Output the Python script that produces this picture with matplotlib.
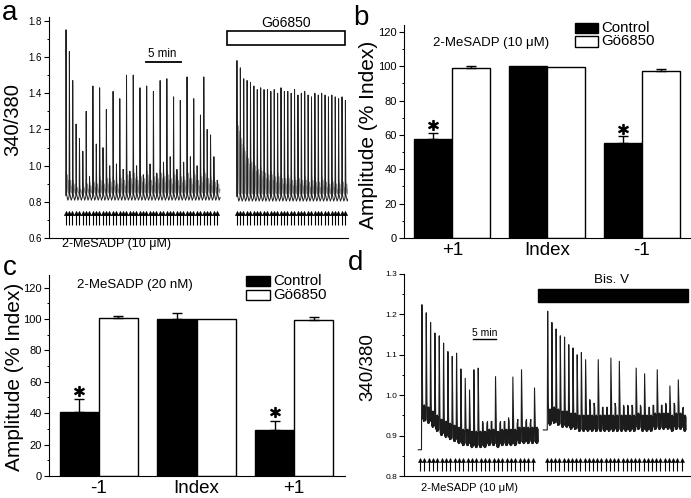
import matplotlib
matplotlib.use('Agg')
import matplotlib.pyplot as plt
from matplotlib.patches import Rectangle
from matplotlib.ticker import MultipleLocator

plt.rcParams['font.family'] = ['Liberation Sans', 'DejaVu Sans']

# ---- panel a : 340/380 trace, 2-MeSADP 10 uM, then Go6850 ----
a_stim_start = [2.39, 26.8]      # min
a_stim_step = [0.480, 0.484]     # min
a_base = [0.815, 0.81]
a_peaks_1 = [1.75, 1.63, 1.47, 1.23, 1.15, 1.08, 1.30, 0.94, 1.44, 1.12,
             1.43, 1.10, 1.31, 1.00, 1.41, 1.01, 1.37, 0.98, 1.50, 0.97,
             1.50, 1.00, 1.43, 0.95, 1.44, 1.01, 1.41, 0.96, 1.47, 1.02,
             1.48, 1.05, 1.38, 0.98, 1.36, 1.02, 1.49, 1.05, 1.37, 1.00,
             1.28, 1.49, 1.20, 1.17, 1.05, 0.92]
a_gray_1 = [0.95, 0.92, 0.90, 0.88, 0.87, 0.88, 0.90, 0.89, 0.91, 0.90,
            0.92, 0.90, 0.93, 0.91, 0.92, 0.90, 0.93, 0.92, 0.95, 0.93,
            0.96, 0.92, 0.94, 0.93, 0.95, 0.92, 0.94, 0.93, 0.96, 0.94,
            0.95, 0.93, 0.95, 0.92, 0.94, 0.92, 0.96, 0.93, 0.95, 0.92,
            0.94, 0.96, 0.93, 0.92, 0.91, 0.90]
a_peaks_2 = [1.58, 1.54, 1.48, 1.47, 1.46, 1.44, 1.42, 1.43, 1.42, 1.42,
             1.41, 1.42, 1.40, 1.43, 1.41, 1.41, 1.40, 1.42, 1.39, 1.40,
             1.41, 1.39, 1.38, 1.40, 1.39, 1.40, 1.39, 1.38, 1.39, 1.38,
             1.37, 1.38, 1.36]
a_gray_2 = [1.22, 1.15, 1.08, 1.04, 1.02, 1.00, 0.98, 0.97, 0.96, 0.95,
            0.95, 0.94, 0.94, 0.93, 0.93, 0.93, 0.92, 0.92, 0.93, 0.92,
            0.92, 0.91, 0.92, 0.91, 0.91, 0.92, 0.91, 0.90, 0.91, 0.90,
            0.90, 0.91, 0.90]

# ---- panel b : 2-MeSADP 10 uM ----
b_cats = ['+1', 'Index', '-1']
b_control = [57.5, 100.0, 55.2]
b_control_err = [3.9, 0.0, 4.2]
b_go = [98.8, 99.7, 97.2]
b_go_err = [1.2, 0.0, 1.4]
b_star = [65.8, None, 63.3]

# ---- panel c : 2-MeSADP 20 nM ----
c_cats = ['-1', 'Index', '+1']
c_control = [40.8, 99.9, 29.6]
c_control_err = [8.0, 4.0, 5.6]
c_go = [100.4, 99.8, 99.6]
c_go_err = [1.4, 0.0, 1.6]
c_star = [54.3, None, 41.0]

# ---- panel d : 2-MeSADP 10 uM, then Bis. V ----
d_stim_start = [3.43, 30.58]
d_stim_step = [0.928, 0.903]
d_lag = [0.35, 0.15]
d_pre = [(3.07, 0.865), (29.85, 0.914)]
d_peaks_1 = [1.224, 1.204, 1.180, 1.154, 1.147, 1.129, 1.108, 1.096, 1.104,
             1.065, 1.042, 1.013, 1.063, 1.067, 0.935, 0.93, 0.935, 1.046,
             0.93, 0.935, 0.944, 1.045, 0.93, 1.063, 0.935, 0.93, 1.018]
d_base_1 = [0.955, 0.95, 0.94, 0.93, 0.92, 0.915, 0.91, 0.905, 0.90,
            0.895, 0.895, 0.89, 0.89, 0.89, 0.89, 0.895, 0.895, 0.89,
            0.895, 0.895, 0.895, 0.895, 0.90, 0.90, 0.90, 0.90, 0.90]
d_peaks_2 = [1.208, 1.180, 1.164, 1.147, 1.144, 1.125, 1.117, 1.100, 1.106,
             1.088, 0.989, 0.980, 1.088, 0.97, 0.97, 1.092, 0.98, 1.084,
             0.975, 0.975, 0.975, 1.067, 0.975, 1.053, 0.97, 0.975, 1.063,
             0.975, 0.98, 1.023, 0.98, 1.038, 0.965]
d_base_2 = [0.945, 0.95, 0.945, 0.94, 0.94, 0.935, 0.935, 0.93, 0.93,
            0.93, 0.93, 0.93, 0.93, 0.93, 0.93, 0.93, 0.93, 0.93, 0.93,
            0.93, 0.93, 0.935, 0.93, 0.93, 0.93, 0.935, 0.935, 0.935,
            0.935, 0.93, 0.935, 0.935, 0.93]

# recording noise drawn between the spikes of panel d
wiggle = [0.016, -0.014, 0.019, -0.017, 0.010, -0.020, 0.015, -0.012,
          0.021, -0.016, 0.013, -0.019, 0.017, -0.015]


def draw_arrows(ax, t0, step, n, y0, y1, head_y, ms):
    ts = [t0 + i * step for i in range(n)]
    ax.vlines(ts, y0, y1, color='k', lw=0.8)
    ax.plot(ts, [head_y] * n, ls='none', marker='^', ms=ms, color='k',
            mec='k', mew=0.3)


def setup_left(ax, size):
    for s in ['top', 'right']:
        ax.spines[s].set_visible(False)
    ax.tick_params(axis='y', which='major', direction='out', length=3.5,
                   width=0.8, labelsize=size, pad=1.5)
    ax.tick_params(axis='y', which='minor', direction='out', length=1.8,
                   width=0.7)


fig = plt.figure(figsize=(6.91, 4.98), dpi=100)

# ================= panel a =================
ax = fig.add_axes([49 / 691, 1 - 238.3 / 498, 299 / 691, 221.6 / 498])
setup_left(ax, 7)
ax.set_xlim(0, 42.7)
ax.set_ylim(0.6, 1.822)
ax.set_xticks([])
ax.yaxis.set_major_locator(MultipleLocator(0.2))
ax.yaxis.set_minor_locator(MultipleLocator(0.1))
ax.yaxis.set_major_formatter(plt.FuncFormatter(lambda v, p: f'{v:.1f}'))
for k, (peaks, gray) in enumerate([(a_peaks_1, a_gray_1), (a_peaks_2, a_gray_2)]):
    t0, dt, b = a_stim_start[k], a_stim_step[k], a_base[k]
    bx, by, gx, gy = [], [], [], []
    for i, p in enumerate(peaks):
        t = t0 + i * dt
        bx += [t, t + 0.04, t + 0.11, t + 0.3, t + 0.45]
        by += [b + 0.02, p, b + 0.03, b - 0.005, b + 0.01]
        gx += [t + 0.02, t + 0.06, t + 0.14, t + 0.24, t + 0.34, t + 0.44]
        gy += [b + 0.03, gray[i] + 0.02, b + 0.04, gray[i], b + 0.035,
               gray[i] - 0.03]
    ax.plot(gx, gy, color='#909090', lw=0.7)
    ax.plot(bx, by, color='#202020', lw=0.7)
    draw_arrows(ax, t0, dt, len(peaks), 0.675, 0.745, 0.737, 3.2)
ax.add_patch(Rectangle((25.4, 1.666), 16.9, 0.079, fc='white', ec='k',
                       lw=1.2))
ax.text(33.8, 1.787, 'Gö6850', ha='center', va='center', fontsize=10)
ax.plot([13.8, 18.8], [1.574, 1.574], color='k', lw=1.3)
ax.text(16.2, 1.585, '5 min', ha='center', va='bottom', fontsize=8.3)
ax.text(0.043, -0.024, '2-MeSADP (10 μM)', transform=ax.transAxes,
        ha='left', va='center', fontsize=9)
ax.text(-0.12, 0.534, '340/380', transform=ax.transAxes, rotation=90,
        ha='center', va='center', fontsize=14.5)

# ================= bar panels =================
def bar_panel(rect, ylim, cats, ctrl, ctrl_err, go, go_err, stars, title,
              title_xy, leg_x, leg_y, lab_xy):
    ax = fig.add_axes(rect)
    setup_left(ax, 8)
    x = [1, 2, 3]
    xc = [v - 0.2 for v in x]
    xg = [v + 0.2 for v in x]
    ax.bar(xc, ctrl, width=0.4, color='k', edgecolor='k', lw=1)
    ax.bar(xg, go, width=0.4, color='white', edgecolor='k', lw=1)
    for xs, vals, errs in [(xc, ctrl, ctrl_err), (xg, go, go_err)]:
        for xi, v, e in zip(xs, vals, errs):
            if e > 0:
                ax.errorbar([xi], [v], yerr=[[0], [e]], color='k', lw=1,
                            capsize=3.5, capthick=1)
    for xi, s in zip(xc, stars):
        if s is not None:
            ax.plot([xi], [s], marker='$*$', ms=7, color='k')
    ax.set_xlim(0.49, 3.52)
    ax.set_ylim(*ylim)
    ax.yaxis.set_major_locator(MultipleLocator(20))
    ax.yaxis.set_minor_locator(MultipleLocator(10))
    ax.set_xticks(x)
    ax.set_xticklabels(cats, fontsize=13.5)
    ax.tick_params(axis='x', length=0, pad=3)
    ax.text(title_xy[0], title_xy[1], title, transform=ax.transAxes,
            ha='center', va='center', fontsize=9.5)
    w = 0.08
    h = 0.05
    ax.add_patch(Rectangle((leg_x, leg_y[0] - h / 2), w, h, fc='k', ec='k',
                           lw=1, transform=ax.transAxes, clip_on=False))
    ax.add_patch(Rectangle((leg_x, leg_y[1] - h / 2), w, h, fc='white',
                           ec='k', lw=1, transform=ax.transAxes,
                           clip_on=False))
    ax.text(leg_x + w + 0.012, leg_y[0], 'Control', transform=ax.transAxes,
            ha='left', va='center', fontsize=10.8)
    ax.text(leg_x + w + 0.012, leg_y[1], 'Gö6850', transform=ax.transAxes,
            ha='left', va='center', fontsize=10.8)
    ax.text(lab_xy[0], lab_xy[1], 'Amplitude (% Index)',
            transform=ax.transAxes, rotation=90, ha='center', va='center',
            fontsize=15)
    return ax


bar_panel([404 / 691, 1 - 238 / 498, 287 / 691, 213 / 498], (0, 124),
          b_cats, b_control, b_control_err, b_go, b_go_err, b_star,
          '2-MeSADP (10 μM)', (0.303, 0.915), 0.596, (0.986, 0.923),
          (-0.125, 0.484))
bar_panel([49 / 691, 1 - 476 / 498, 296 / 691, 201 / 498], (0, 128),
          c_cats, c_control, c_control_err, c_go, c_go_err, c_star,
          '2-MeSADP (20 nM)', (0.289, 0.950), 0.667, (0.970, 0.902),
          (-0.118, 0.494))

# ================= panel d =================
ax = fig.add_axes([404 / 691, 1 - 476 / 498, 287 / 691, 202 / 498])
setup_left(ax, 6)
ax.set_xlim(0, 61.5)
ax.set_ylim(0.8, 1.3)
ax.set_xticks([])
ax.yaxis.set_major_locator(MultipleLocator(0.1))
ax.yaxis.set_minor_locator(MultipleLocator(0.05))
ax.yaxis.set_major_formatter(plt.FuncFormatter(lambda v, p: f'{v:.1f}'))
for k, (peaks, base) in enumerate([(d_peaks_1, d_base_1), (d_peaks_2, d_base_2)]):
    t0, dt = d_stim_start[k], d_stim_step[k]
    xs, ys = [d_pre[k][0]], [d_pre[k][1]]
    for i, p in enumerate(peaks):
        t = t0 + i * dt + d_lag[k]
        b = base[i]
        xs += [t - 0.03, t + 0.06, t + 0.2]
        ys += [ys[-1], p, b + 0.04]
        n = len(wiggle)
        for j, w in enumerate(wiggle):
            xs.append(t + 0.25 + j * (dt - 0.32) / n)
            ys.append(b + w)
    ax.plot(xs, ys, color='#1c1c1c', lw=0.8)
    draw_arrows(ax, t0, dt, len(peaks), 0.813, 0.838, 0.839, 3)
ax.add_patch(Rectangle((28.7, 1.2313), 32.2, 0.0322, fc='k', ec='k',
                       clip_on=False))
ax.text(44.5, 1.286, 'Bis. V', ha='center', va='center', fontsize=9.6)
ax.plot([14.7, 19.7], [1.139, 1.139], color='k', lw=1)
ax.text(17.2, 1.142, '5 min', ha='center', va='bottom', fontsize=7.5)
ax.text(0.2265, -0.059, '2-MeSADP (10 μM)', transform=ax.transAxes,
        ha='center', va='center', fontsize=8)
ax.text(-0.125, 0.541, '340/380', transform=ax.transAxes, rotation=90,
        ha='center', va='center', fontsize=13.5)

# panel letters
for letter, xp, yp in [('a', 2, 20), ('b', 353, 25), ('c', 3, 275),
                       ('d', 348, 270)]:
    fig.text(xp / 691, 1 - yp / 498, letter, fontsize=20, va='baseline',
             ha='left')

fig.savefig('out.png', dpi=100)
